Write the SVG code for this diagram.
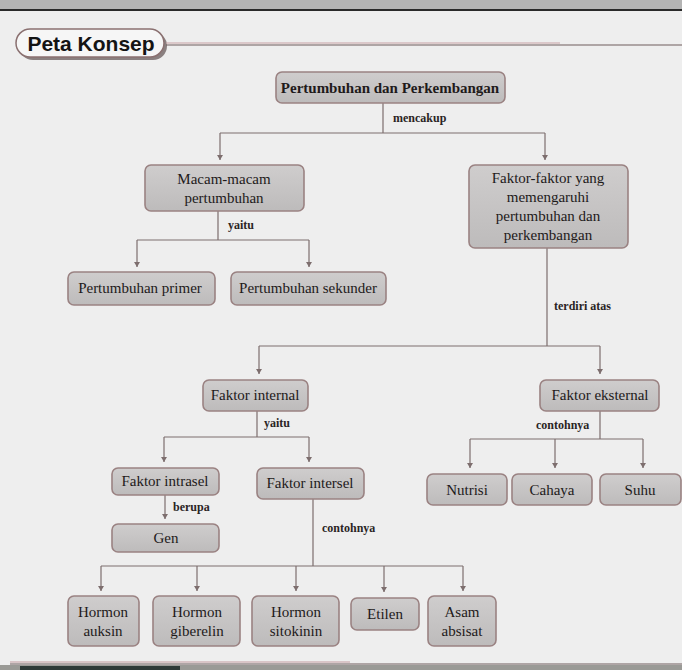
<svg xmlns="http://www.w3.org/2000/svg" width="682" height="670" viewBox="0 0 682 670">
<defs>
<marker id="ah" markerWidth="6" markerHeight="6" refX="5" refY="3" orient="auto" markerUnits="userSpaceOnUse" viewBox="0 0 6 6">
<path d="M0,0 L5,3 L0,6 Z" fill="#7d6e6e"/>
</marker>
<linearGradient id="ng" x1="0" y1="0" x2="0" y2="1">
<stop offset="0" stop-color="#cfcdcd"/>
<stop offset="1" stop-color="#bdbbbb"/>
</linearGradient>
</defs>
<style>
.bg{fill:#eeeeee}
.node rect{fill:url(#ng);stroke:#9a8282;stroke-width:1.6}
.node text{font-family:"Liberation Serif","DejaVu Serif",serif;font-size:15px;fill:#1e1a1a;text-anchor:middle}
.edge{fill:none;stroke:#7d6e6e;stroke-width:1.2}
.lbl{font-family:"Liberation Serif","DejaVu Serif",serif;font-size:12px;font-weight:bold;fill:#2a2424}
</style>
<rect class="bg" x="0" y="0" width="682" height="670"/>
<!-- screenshot toolbar band -->
<rect x="0" y="0" width="682" height="9" fill="#b4b4b4"/>
<rect x="0" y="9" width="682" height="2" fill="#2a2a2a"/>
<rect x="0" y="665" width="682" height="5" fill="#9a9a96"/>
<rect x="20" y="666" width="160" height="4" fill="#2f3a38"/>

<!-- title -->
<g id="title">
<rect x="19" y="32" width="148" height="28" rx="14" fill="#8a8080"/>
<rect x="16" y="29" width="148" height="28" rx="14" fill="#f6f6f6" stroke="#8a7070" stroke-width="1.5"/>
<text x="91" y="51" font-family="'Liberation Sans','DejaVu Sans',sans-serif" font-size="21" font-weight="bold" fill="#141414" text-anchor="middle">Peta Konsep</text>
<line x1="166" y1="43" x2="560" y2="43" stroke="#c9a3a6" stroke-width="1"/>
<line x1="166" y1="45" x2="682" y2="45" stroke="#6e5c5c" stroke-width="1"/>
</g>
<line x1="10" y1="662" x2="350" y2="662" stroke="#c49ca0" stroke-width="1"/>
<line x1="10" y1="664" x2="682" y2="664" stroke="#6e5c5c" stroke-width="1"/>

<g id="connectors">
<path class="edge" d="M383,103 V133 M220,133 H545"/>
<path class="edge" d="M220,133 V160" marker-end="url(#ah)"/>
<path class="edge" d="M545,133 V160" marker-end="url(#ah)"/>
<text class="lbl" x="393" y="122">mencakup</text>

<path class="edge" d="M218,211 V240 M137,240 H309"/>
<path class="edge" d="M137,240 V267" marker-end="url(#ah)"/>
<path class="edge" d="M309,240 V267" marker-end="url(#ah)"/>
<text class="lbl" x="228" y="229">yaitu</text>

<path class="edge" d="M547,248 V346 M259,346 H600"/>
<path class="edge" d="M259,346 V374" marker-end="url(#ah)"/>
<path class="edge" d="M600,346 V374" marker-end="url(#ah)"/>
<text class="lbl" x="554" y="310">terdiri  atas</text>

<path class="edge" d="M257,411 V437 M164,437 H309"/>
<path class="edge" d="M164,437 V462" marker-end="url(#ah)"/>
<path class="edge" d="M309,437 V462" marker-end="url(#ah)"/>
<text class="lbl" x="264" y="427">yaitu</text>

<path class="edge" d="M165,495 V519" marker-end="url(#ah)"/>
<text class="lbl" x="173" y="511">berupa</text>

<path class="edge" d="M313,499 V566 M101,566 H463"/>
<path class="edge" d="M101,566 V591" marker-end="url(#ah)"/>
<path class="edge" d="M197,566 V591" marker-end="url(#ah)"/>
<path class="edge" d="M296,566 V591" marker-end="url(#ah)"/>
<path class="edge" d="M384,566 V592" marker-end="url(#ah)"/>
<path class="edge" d="M463,566 V591" marker-end="url(#ah)"/>
<text class="lbl" x="322" y="532">contohnya</text>

<path class="edge" d="M600,411 V439 M470,439 H643"/>
<path class="edge" d="M470,439 V468" marker-end="url(#ah)"/>
<path class="edge" d="M555,439 V468" marker-end="url(#ah)"/>
<path class="edge" d="M643,439 V468" marker-end="url(#ah)"/>
<text class="lbl" x="536" y="429">contohnya</text>
</g>

<g id="n-root" class="node"><rect x="276" y="72" width="229" height="31" rx="6"/><text x="390" y="93" font-weight="bold">Pertumbuhan dan Perkembangan</text></g>
<g id="n-macam" class="node"><rect x="145" y="165" width="159" height="46" rx="6"/><text x="224" y="184">Macam-macam</text><text x="224" y="203">pertumbuhan</text></g>
<g id="n-faktor" class="node"><rect x="469" y="165" width="159" height="83" rx="6"/><text x="548" y="183">Faktor-faktor yang</text><text x="548" y="202">memengaruhi</text><text x="548" y="221">pertumbuhan dan</text><text x="548" y="240">perkembangan</text></g>
<g id="n-primer" class="node"><rect x="68" y="272" width="147" height="33" rx="6"/><text x="140" y="293">Pertumbuhan primer</text></g>
<g id="n-sekunder" class="node"><rect x="231" y="272" width="155" height="33" rx="6"/><text x="308" y="293">Pertumbuhan sekunder</text></g>
<g id="n-internal" class="node"><rect x="203" y="380" width="105" height="31" rx="6"/><text x="255" y="400">Faktor internal</text></g>
<g id="n-eksternal" class="node"><rect x="540" y="380" width="119" height="31" rx="6"/><text x="600" y="400">Faktor eksternal</text></g>
<g id="n-intrasel" class="node"><rect x="112" y="468" width="107" height="27" rx="6"/><text x="165" y="486">Faktor intrasel</text></g>
<g id="n-intersel" class="node"><rect x="257" y="468" width="107" height="31" rx="6"/><text x="310" y="488">Faktor intersel</text></g>
<g id="n-gen" class="node"><rect x="112" y="524" width="107" height="28" rx="6"/><text x="166" y="543">Gen</text></g>
<g id="n-nutrisi" class="node"><rect x="427" y="474" width="80" height="31" rx="6"/><text x="467" y="495">Nutrisi</text></g>
<g id="n-cahaya" class="node"><rect x="512" y="474" width="80" height="31" rx="6"/><text x="552" y="495">Cahaya</text></g>
<g id="n-suhu" class="node"><rect x="600" y="474" width="81" height="31" rx="6"/><text x="640" y="495">Suhu</text></g>
<g id="n-auksin" class="node"><rect x="68" y="596" width="71" height="50" rx="6"/><text x="103" y="617">Hormon</text><text x="103" y="636">auksin</text></g>
<g id="n-giberelin" class="node"><rect x="153" y="596" width="87" height="50" rx="6"/><text x="197" y="617">Hormon</text><text x="197" y="636">giberelin</text></g>
<g id="n-sitokinin" class="node"><rect x="252" y="596" width="87" height="50" rx="6"/><text x="296" y="617">Hormon</text><text x="296" y="636">sitokinin</text></g>
<g id="n-etilen" class="node"><rect x="351" y="598" width="68" height="32" rx="6"/><text x="385" y="619">Etilen</text></g>
<g id="n-asam" class="node"><rect x="428" y="596" width="68" height="50" rx="6"/><text x="462" y="617">Asam</text><text x="462" y="636">absisat</text></g>
</svg>
